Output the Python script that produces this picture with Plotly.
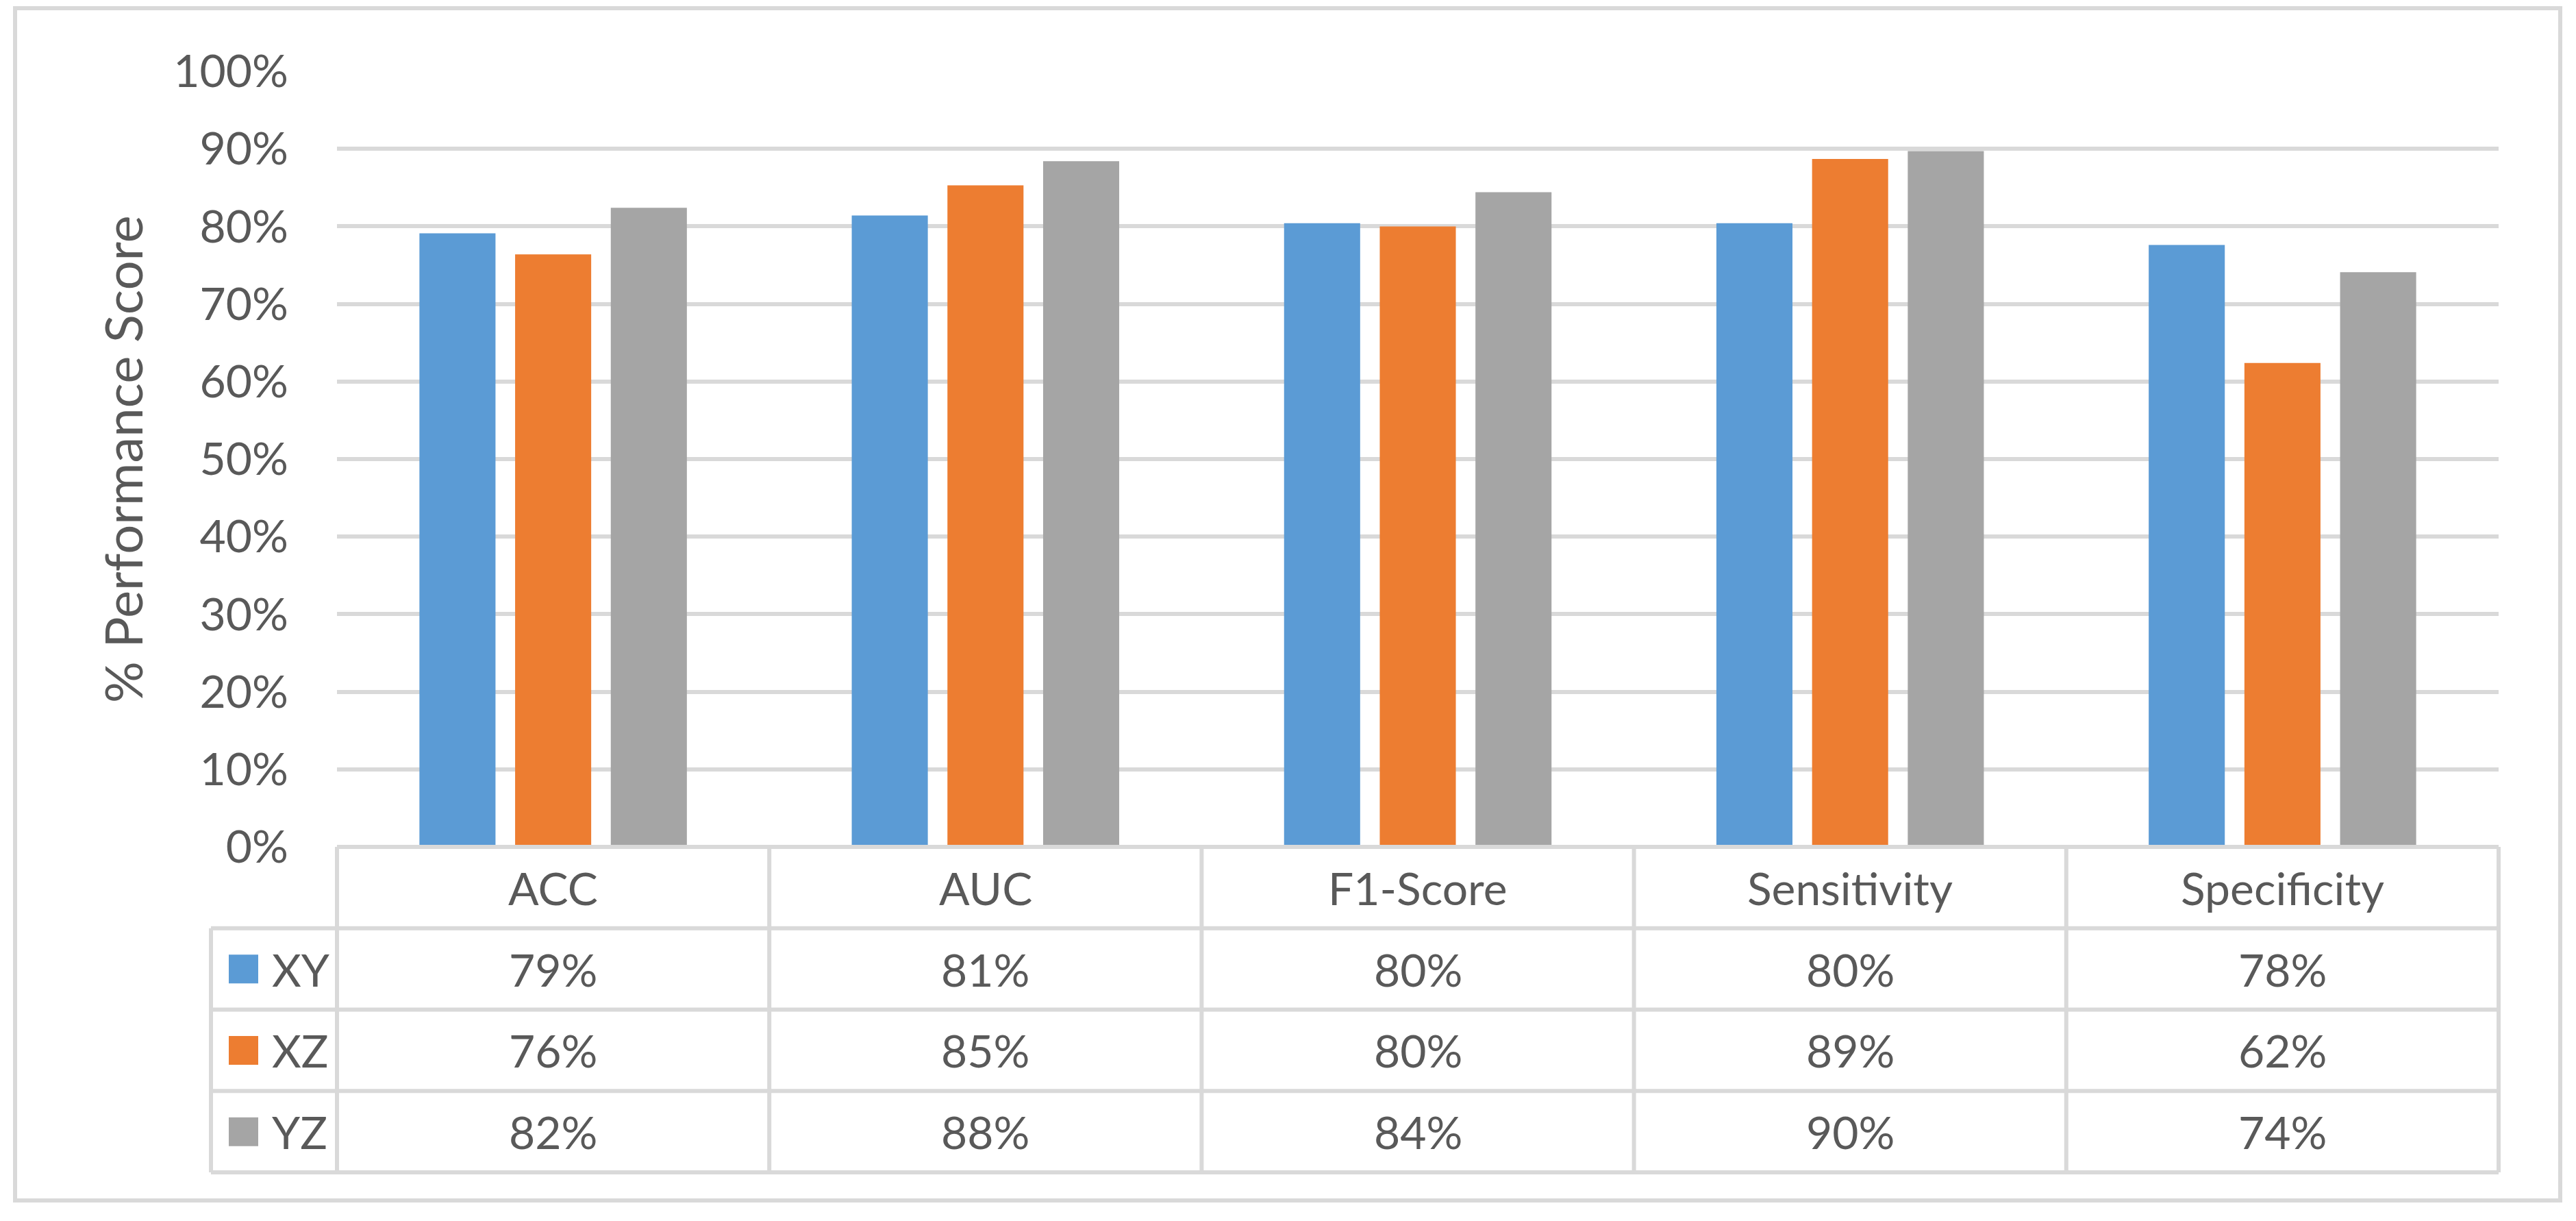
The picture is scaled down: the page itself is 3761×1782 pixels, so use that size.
import plotly.graph_objects as go

# ---------------- data ----------------
categories = ["ACC", "AUC", "F1-Score", "Sensitivity", "Specificity"]
series_names = ["XY", "XZ", "YZ"]
xy_values = [0.791, 0.814, 0.804, 0.804, 0.776]
xz_values = [0.764, 0.853, 0.800, 0.887, 0.624]
yz_values = [0.824, 0.884, 0.844, 0.897, 0.741]
y_tick_values = [0.0, 0.1, 0.2, 0.3, 0.4, 0.5, 0.6, 0.7, 0.8, 0.9, 1.0]
y_title = "% Performance Score"

# ---------------- style ----------------
colors = ["#5B9BD5", "#ED7D31", "#A5A5A5"]
text_color = "#595959"
line_color = "#D9D9D9"
font_family = "Lato, Carlito, Calibri, sans-serif"

OFF = 8  # page body margin in the browser
W, H = 3761 - OFF, 1782 - OFF
PL, PR, PT, PB = 492 - OFF, 3648 - OFF, 104 - OFF, 1236 - OFF   # plot area (figure px)
pw, ph = PR - PL, PB - PT
row_h = 118.75
legend_left = 308 - OFF
key_x0, key_x1 = 334 - OFF, 377 - OFF
key_h = 42
name_x = 395 - OFF
title_x = 178 - OFF
border = (22 - OFF, 12 - OFF, 3738 - OFF, 1752 - OFF)


def px(xp):
    return (xp - PL) / pw


def py(yp):
    return (PB - yp) / ph


all_values = [xy_values, xz_values, yz_values]

fig = go.Figure()
for name, vals, col in zip(series_names, all_values, colors):
    fig.add_trace(go.Bar(x=categories, y=vals, name=name,
                         marker=dict(color=col, line=dict(width=0)),
                         showlegend=False))

shapes = []
annotations = []
n_cat = len(categories)
n_rows = len(series_names) + 1
table_bottom = PB + n_rows * row_h

# outer chart border
shapes.append(dict(type="rect", xref="paper", yref="paper",
                   x0=px(border[0]), x1=px(border[2]), y0=py(border[1]), y1=py(border[3]),
                   line=dict(color=line_color, width=6), fillcolor="rgba(0,0,0,0)",
                   layer="below"))

# table horizontal lines
for k in range(n_rows + 1):
    y = py(PB + k * row_h)
    x0 = 0 if k == 0 else px(legend_left)
    shapes.append(dict(type="line", xref="paper", yref="paper",
                       x0=x0, x1=1, y0=y, y1=y,
                       line=dict(color=line_color, width=6)))
# table vertical lines at category boundaries
for k in range(n_cat + 1):
    x = k / n_cat
    shapes.append(dict(type="line", xref="paper", yref="paper",
                       x0=x, x1=x, y0=py(PB), y1=py(table_bottom),
                       line=dict(color=line_color, width=6)))
# legend column left line
shapes.append(dict(type="line", xref="paper", yref="paper",
                   x0=px(legend_left), x1=px(legend_left),
                   y0=py(PB + row_h), y1=py(table_bottom),
                   line=dict(color=line_color, width=6)))

tfont = dict(family=font_family, size=66, color=text_color)

# header row: categories
for c in categories:
    annotations.append(dict(x=c, xref="x", y=py(PB + 0.5 * row_h), yref="paper",
                            text=c, showarrow=False, font=tfont,
                            xanchor="center", yanchor="middle"))

# data rows
for r, (name, vals, col) in enumerate(zip(series_names, all_values, colors)):
    yc = PB + (r + 1.5) * row_h
    for c, v in zip(categories, vals):
        annotations.append(dict(x=c, xref="x", y=py(yc), yref="paper",
                                text=f"{round(v * 100)}%", showarrow=False, font=tfont,
                                xanchor="center", yanchor="middle"))
    # legend key
    shapes.append(dict(type="rect", xref="paper", yref="paper",
                       x0=px(key_x0), x1=px(key_x1),
                       y0=py(yc - key_h / 2), y1=py(yc + key_h / 2),
                       fillcolor=col, line=dict(width=0)))
    annotations.append(dict(x=px(name_x), xref="paper", y=py(yc), yref="paper",
                            text=name, showarrow=False, font=tfont,
                            xanchor="left", yanchor="middle"))

# y axis title
annotations.append(dict(x=px(title_x), xref="paper", y=0.5, yref="paper",
                        text=y_title, textangle=-90, showarrow=False,
                        font=dict(family=font_family, size=76, color=text_color),
                        xanchor="center", yanchor="middle"))

fig.update_layout(
    width=W, height=H,
    margin=dict(l=PL, r=W - PR, t=PT, b=H - PB, pad=0),
    paper_bgcolor="white", plot_bgcolor="white",
    barmode="group", bargap=0.336, bargroupgap=0.205,
    shapes=shapes, annotations=annotations,
    font=dict(family=font_family, color=text_color),
)
fig.update_xaxes(showticklabels=False, showgrid=False, zeroline=False,
                 showline=False, ticks="")
fig.update_yaxes(range=[0, 1], tickvals=y_tick_values, tickformat=".0%",
                 showgrid=True, gridcolor=line_color, gridwidth=6,
                 zeroline=False, showline=False, ticks="",
                 ticklabelstandoff=70,
                 tickfont=dict(family=font_family, size=66, color=text_color))

fig.write_html("out.html")
